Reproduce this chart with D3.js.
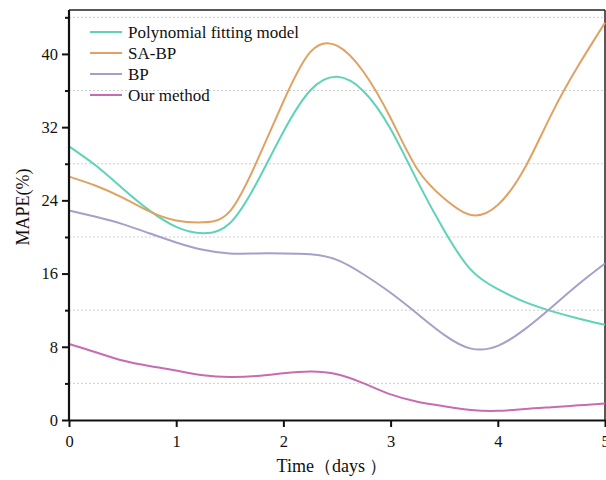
<!DOCTYPE html>
<html>
<head>
<meta charset="utf-8">
<script src="https://cdn.jsdelivr.net/npm/d3@7"></script>
<style>
  body { margin: 0; background: #fff; }
  svg { display: block; font-family: "Liberation Serif", "Times New Roman", serif; }
  .axis path, .axis line { stroke: #111; }
  .axis text { font-family: "Liberation Serif", serif; font-size: 16.5px; fill: #111; }
</style>
</head>
<body>
<div id="chart"></div>
<script>
// days sampled every quarter day
const days = [0, 0.25, 0.5, 0.75, 1, 1.25, 1.5, 1.75, 2, 2.25, 2.5, 2.75, 3, 3.25, 3.5, 3.75, 4, 4.25, 4.5, 4.75, 5];

const polyFit = [29.9, 27.8, 25.3, 22.9, 21.1, 20.4, 21.5, 25.9, 31.5, 36.0, 37.5, 35.9, 31.8, 26.1, 20.7, 16.4, 14.3, 12.9, 11.9, 11.1, 10.4];
const saBp = [26.6, 25.6, 24.3, 22.8, 21.8, 21.6, 22.8, 28.2, 34.8, 40.2, 40.9, 38.0, 33.0, 27.4, 24.2, 22.4, 23.5, 27.5, 33.4, 38.7, 43.4];
const bp = [22.9, 22.2, 21.4, 20.4, 19.4, 18.6, 18.2, 18.2, 18.2, 18.1, 17.5, 15.9, 13.9, 11.6, 9.3, 7.8, 8.1, 9.9, 12.3, 14.8, 17.1];
const ourMethod = [8.3, 7.4, 6.5, 5.9, 5.4, 4.9, 4.7, 4.8, 5.1, 5.3, 5.0, 4.0, 2.8, 2.0, 1.5, 1.1, 1.0, 1.2, 1.4, 1.6, 1.8];

const seriesNames = ['Polynomial fitting model', 'SA-BP', 'BP', 'Our method'];
const seriesColors = ['#5ed3b8', '#e0a262', '#a4a1c9', '#c86cb2'];
const seriesValues = [polyFit, saBp, bp, ourMethod];

const xTicks = [0, 1, 2, 3, 4, 5];
const yTicks = [0, 8, 16, 24, 32, 40];
const yMinorTicks = [4, 12, 20, 28, 36, 44];

///////// Initialization //////////
const margin = { top: 10, right: 1, bottom: 60, left: 69 };
const width = 606 - margin.left - margin.right;
const height = 480 - margin.top - margin.bottom;

const svg = d3.select('#chart')
  .append('svg')
  .attr('width', width + margin.left + margin.right)
  .attr('height', height + margin.top + margin.bottom);

const group = svg.append('g')
  .attr('transform', 'translate(' + margin.left + ',' + margin.top + ')');

const xScale = d3.scaleLinear().domain([0, 5]).range([0, width]);
const yScale = d3.scaleLinear().domain([0, 44.8]).range([height, 0]);

// dotted grid lines at the minor ticks
group.append('g')
  .selectAll('line')
  .data(yMinorTicks)
  .enter()
  .append('line')
  .attr('x1', 0)
  .attr('x2', width)
  .attr('y1', (d) => yScale(d))
  .attr('y2', (d) => yScale(d))
  .attr('stroke', '#cfcfcf')
  .attr('stroke-width', 1)
  .attr('stroke-dasharray', '2 2');

// frame: top and right
group.append('line')
  .attr('x1', 0).attr('x2', width).attr('y1', 0).attr('y2', 0)
  .attr('stroke', '#222').attr('stroke-width', 1.5);
group.append('line')
  .attr('x1', width).attr('x2', width).attr('y1', 0).attr('y2', height)
  .attr('stroke', '#222').attr('stroke-width', 1.5);

// lines
const line = d3.line()
  .x((d) => xScale(d[0]))
  .y((d) => yScale(d[1]))
  .curve(d3.curveNatural);

seriesValues.forEach((vals, i) => {
  group.append('path')
    .datum(days.map((d, j) => [d, vals[j]]))
    .attr('fill', 'none')
    .attr('stroke', seriesColors[i])
    .attr('stroke-width', 2)
    .attr('stroke-linejoin', 'round')
    .attr('d', line);
});

// axes
const xAxis = d3.axisBottom(xScale).tickValues(xTicks).tickSize(7).tickSizeOuter(0).tickFormat(d3.format('d'));
const xAxisGroup = group.append('g')
  .attr('class', 'x-axis axis')
  .attr('transform', 'translate(0,' + height + ')')
  .call(xAxis);
xAxisGroup.select('.domain').attr('stroke-width', 2.2);
xAxisGroup.selectAll('.tick line').attr('stroke-width', 2);
xAxisGroup.selectAll('.tick text').attr('dy', '1.05em');

const yMinorAxis = d3.axisLeft(yScale).tickValues(yMinorTicks).tickSize(4).tickFormat('');
group.append('g')
  .attr('class', 'y-minor axis')
  .call(yMinorAxis)
  .call((g) => g.select('.domain').remove())
  .selectAll('.tick line').attr('stroke-width', 2);

const yAxis = d3.axisLeft(yScale).tickValues(yTicks).tickSize(7).tickSizeOuter(0);
const yAxisGroup = group.append('g')
  .attr('class', 'y-axis axis')
  .call(yAxis);
yAxisGroup.select('.domain').attr('d', 'M0,' + height + 'V0').attr('stroke-width', 2.2);
yAxisGroup.selectAll('.tick line').attr('stroke-width', 2);
yAxisGroup.selectAll('.tick text').attr('x', -11);

// axis titles
svg.append('text')
  .attr('x', margin.left + width / 2 - 5)
  .attr('y', 472)
  .attr('text-anchor', 'middle')
  .attr('font-size', 18)
  .attr('fill', '#111')
  .text('Time（days ）');

svg.append('text')
  .attr('transform', 'translate(29,' + (margin.top + height / 2 - 8) + ') rotate(-90)')
  .attr('text-anchor', 'middle')
  .attr('font-size', 18)
  .attr('fill', '#111')
  .text('MAPE(%)');

// legend
const legend = group.append('g').attr('transform', 'translate(21,22)');
seriesNames.forEach((name, i) => {
  const row = legend.append('g').attr('transform', 'translate(0,' + i * 21 + ')');
  row.append('line')
    .attr('x1', 0).attr('x2', 32).attr('y1', 0).attr('y2', 0)
    .attr('stroke', seriesColors[i]).attr('stroke-width', 2);
  row.append('text')
    .attr('x', 38)
    .attr('y', 0)
    .attr('dy', '0.35em')
    .attr('font-size', 17)
    .attr('fill', '#111')
    .text(name);
});
</script>
</body>
</html>
